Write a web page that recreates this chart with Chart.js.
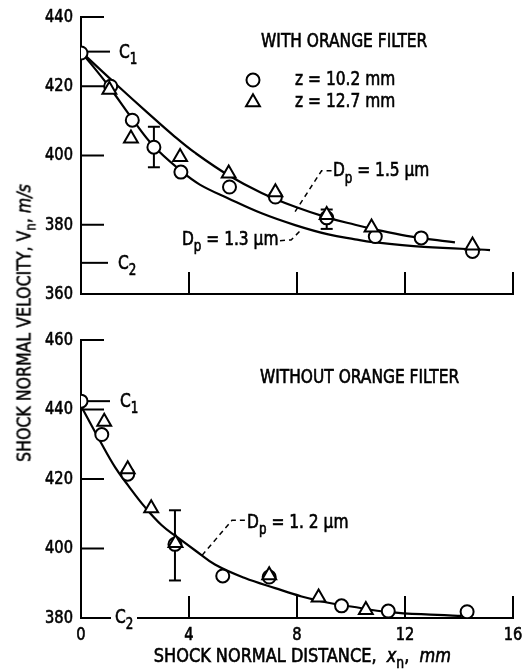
<!DOCTYPE html>
<html>
<head>
<meta charset="utf-8">
<script src="https://cdn.jsdelivr.net/npm/chart.js@4/dist/chart.umd.min.js"></script>
<style>
  html, body { margin: 0; padding: 0; background: #fff; }
  #wrap { position: relative; width: 523px; height: 670px; overflow: hidden; background: #fff; }
  #top { position: absolute; left: 0; top: 0; }
  #bot { position: absolute; left: 0; top: 320px; }
  #ytitle {
    position: absolute; left: 24px; top: 323px;
    transform: translate(-50%, -50%) rotate(-90deg) scale(0.9, 1);
    white-space: nowrap; color: #000;
    -webkit-text-stroke: 0.5px #000;
    font: 19.5px "DejaVu Sans Condensed", "Liberation Sans Narrow", "Liberation Sans", sans-serif;
  }
  #ytitle sub { font-size: 0.75em; vertical-align: -0.35em; line-height: 0; }
</style>
</head>
<body>
<div id="wrap">
  <canvas id="top" width="523" height="310"></canvas>
  <canvas id="bot" width="523" height="350"></canvas>
  <div id="ytitle">SHOCK NORMAL VELOCITY, V<sub>n</sub>, <i>m/s</i></div>
</div>
<script>
const FONT = '"DejaVu Sans Condensed", "Liberation Sans Narrow", "Liberation Sans", sans-serif';

// axes
const xTicks = [0, 4, 8, 12, 16];
const withYTicks = [360, 380, 400, 420, 440];
const withoutYTicks = [380, 400, 420, 440, 460];

// with orange filter (top)
const withC1 = 430;
const withC2 = 369;
const withCircleX = [0, 1.1, 1.9, 2.7, 3.7, 5.5, 7.2, 9.1, 10.9, 12.6, 14.5];
const withCircleV = [429.6, 420, 410.2, 402.4, 395.2, 390.9, 388.0, 382.0, 376.6, 376.2, 372.3];
const withTriX = [1.05, 1.85, 3.67, 5.47, 7.2, 9.1, 10.76, 14.5];
const withTriV = [419, 404.9, 399.6, 394.8, 389.4, 382.8, 379.2, 374.0];
const withErrX = [2.7, 9.1];
const withErrLow = [396.6, 378.8];
const withErrHigh = [408.3, 384.4];
const curve15X = [0, 1.38, 2.43, 3.48, 4.22, 5.46, 6.69, 7.93, 9.16, 10.15, 10.8, 12.06, 13.85];
const curve15V = [430, 420.0, 412.6, 405.4, 400.8, 394.3, 389.2, 385.2, 382.0, 380.0, 378.8, 376.8, 374.9];
const curve13X = [0, 1.0, 1.88, 2.68, 3.73, 4.4, 5.46, 6.69, 7.93, 9.16, 10.15, 10.8, 12.7, 15.15];
const curve13V = [430, 420.3, 410.8, 402.8, 395.4, 391.6, 387.6, 383.3, 379.9, 377.2, 375.8, 375.0, 373.6, 372.7];

// without orange filter (bottom)
const withoutC1 = 442.4;
const withoutC2 = 380;
const withoutCircleX = [0, 0.77, 1.73, 3.48, 5.25, 6.97, 9.65, 11.38, 14.3];
const withoutCircleV = [442.4, 432.8, 421.4, 401.2, 392.1, 391.8, 383.5, 382.0, 381.8];
const withoutTriX = [0.86, 1.73, 2.6, 3.5, 6.97, 8.8, 10.55];
const withoutTriV = [436.5, 422.8, 411.6, 401.6, 392.3, 385.9, 382.3];
const withoutErrX = [3.48];
const withoutErrLow = [390.8];
const withoutErrHigh = [411];
const curve12X = [0, 0.7, 1.26, 1.75, 2.37, 2.99, 3.54, 4.22, 4.96, 6.07, 7.19, 8.17, 9.16, 10.0, 11.4, 13.2, 14.1];
const curve12V = [441, 431, 423.4, 418.1, 411.9, 406.7, 403.4, 399.5, 395.4, 391.5, 388.6, 386.2, 384.4, 383.3, 381.7, 380.9, 380.6];

function pts(xs, vs) {
  return xs.map((x, i) => ({ x: x, y: vs[i] }));
}

function circles(xs, vs) {
  return { data: pts(xs, vs), showLine: false, pointStyle: 'circle', pointRadius: 6.5,
    pointBorderColor: '#000', pointBackgroundColor: '#fff', pointBorderWidth: 2 };
}
function triangles(xs, vs) {
  return { data: pts(xs, vs), showLine: false, pointStyle: 'triangle', pointRadius: 8,
    pointBorderColor: '#000', pointBackgroundColor: '#fff', pointBorderWidth: 2 };
}
function curve(xs, vs) {
  return { data: pts(xs, vs), showLine: true, pointRadius: 0, borderColor: '#000',
    borderWidth: 2.2, tension: 0.4, fill: false };
}

// text helpers (sx squeezes the text sideways, the print uses a narrow face)
function rich(ctx, parts, x, y, size, align, sx) {
  sx = sx || 0.88;
  const fontFor = k => (k === 'it' ? 'italic ' : '') + (k === 'sub' ? Math.round(size * 0.75) : size) + 'px ' + FONT;
  let total = 0;
  parts.forEach(p => { ctx.font = fontFor(p[1]); total += ctx.measureText(p[0]).width; });
  let start = x;
  if (align === 'center') start = x - total * sx / 2;
  if (align === 'right') start = x - total * sx;
  ctx.save();
  ctx.translate(start, y);
  ctx.scale(sx, 1);
  ctx.textAlign = 'left';
  ctx.textBaseline = 'middle';
  ctx.strokeStyle = ctx.fillStyle;
  ctx.lineWidth = 0.6;
  ctx.setLineDash([]);
  let cx = 0;
  parts.forEach(p => {
    ctx.font = fontFor(p[1]);
    const dy = p[1] === 'sub' ? size * 0.38 : 0;
    ctx.fillText(p[0], cx, dy);
    ctx.strokeText(p[0], cx, dy);
    cx += ctx.measureText(p[0]).width;
  });
  ctx.restore();
}
function seg(ctx, x1, y1, x2, y2) {
  ctx.beginPath(); ctx.moveTo(x1, y1); ctx.lineTo(x2, y2); ctx.stroke();
}
function dashed(ctx, list) {
  ctx.save();
  ctx.lineWidth = 1.5;
  ctx.setLineDash([5, 4]);
  ctx.beginPath();
  list.forEach((p, i) => i ? ctx.lineTo(p[0], p[1]) : ctx.moveTo(p[0], p[1]));
  ctx.stroke();
  ctx.restore();
}
function circleMark(ctx, x, y, r) {
  ctx.beginPath(); ctx.arc(x, y, r, 0, Math.PI * 2); ctx.stroke();
}
function triMark(ctx, x, y, r) {
  ctx.beginPath();
  for (let k = 0; k < 3; k++) {
    const a = k * 2 * Math.PI / 3;
    const px = x + Math.sin(a) * r, py = y - Math.cos(a) * r;
    k ? ctx.lineTo(px, py) : ctx.moveTo(px, py);
  }
  ctx.closePath(); ctx.stroke();
}

// inward tick marks and the narrow tick labels
function axisMarks(showX) {
  return {
    id: 'axisMarks',
    afterDatasetsDraw(chart) {
      const { ctx, chartArea: a, scales: { x, y } } = chart;
      ctx.save();
      ctx.strokeStyle = '#000';
      ctx.fillStyle = '#000';
      ctx.lineWidth = 2;
      y.ticks.forEach(t => {
        const py = y.getPixelForValue(t.value);
        if (t.value !== y.min) seg(ctx, a.left, py, a.left + 23, py);
        rich(ctx, [[String(t.value), '']], a.left - 8, py, 18.5, 'right');
        ctx.lineWidth = 2;
      });
      x.ticks.forEach(t => {
        const px = x.getPixelForValue(t.value);
        if (t.value !== x.min) seg(ctx, px, a.bottom, px, a.bottom - 22);
        if (showX) rich(ctx, [[String(t.value), '']], px, a.bottom + 17, 18.5, 'center');
        ctx.lineWidth = 2;
      });
      ctx.restore();
    }
  };
}

function errorBars(xs, lows, highs) {
  return {
    id: 'errorBars',
    beforeDatasetsDraw(chart) {
      const { ctx, scales: { x, y } } = chart;
      ctx.save();
      ctx.strokeStyle = '#000';
      ctx.lineWidth = 2;
      xs.forEach((xv, i) => {
        const px = x.getPixelForValue(xv);
        const p1 = y.getPixelForValue(lows[i]);
        const p2 = y.getPixelForValue(highs[i]);
        seg(ctx, px, p1, px, p2);
        seg(ctx, px - 6, p1, px + 6, p1);
        seg(ctx, px - 6, p2, px + 6, p2);
      });
      ctx.restore();
    }
  };
}

const topNotes = {
  id: 'topNotes',
  afterDraw(chart) {
    const { ctx, chartArea: a, scales: { x, y } } = chart;
    const X = v => x.getPixelForValue(v), Y = v => y.getPixelForValue(v);
    ctx.save();
    ctx.fillStyle = '#000';
    ctx.strokeStyle = '#000';
    ctx.lineWidth = 2;
    seg(ctx, a.left + 7, Y(withC1), a.left + 29, Y(withC1));
    seg(ctx, a.left, Y(withC2), a.left + 27, Y(withC2));
    circleMark(ctx, X(6.37), Y(421.8), 6.5);
    triMark(ctx, X(6.37), Y(415.4), 8);
    dashed(ctx, [[X(9.28), Y(395.6)], [X(8.91), Y(395.6)], [X(7.93), Y(383.8)]]);
    dashed(ctx, [[X(7.37), Y(375.4)], [X(7.78), Y(375.6)], [X(8.19), Y(378.8)]]);

    rich(ctx, [['C', ''], ['1', 'sub']], a.left + 38, Y(withC1) + 1, 19.5);
    rich(ctx, [['C', ''], ['2', 'sub']], a.left + 37, Y(withC2) + 1, 19.5);
    rich(ctx, [['WITH ORANGE FILTER', '']], X(6.67), Y(432.7), 19.5);
    rich(ctx, [['z = 10.2 mm', '']], X(7.93), Y(421.8), 19.5);
    rich(ctx, [['z = 12.7 mm', '']], X(7.93), Y(415.6), 19.5);
    rich(ctx, [['D', ''], ['p', 'sub'], [' = 1.5 µm', '']], X(9.33), Y(395.4), 19.5);
    rich(ctx, [['D', ''], ['p', 'sub'], [' = 1.3 µm', '']], X(3.74), Y(375.6), 19.5);
    ctx.restore();
  }
};

const botNotes = {
  id: 'botNotes',
  afterDraw(chart) {
    const { ctx, chartArea: a, scales: { x, y } } = chart;
    const X = v => x.getPixelForValue(v), Y = v => y.getPixelForValue(v);
    ctx.save();
    ctx.fillStyle = '#000';
    ctx.strokeStyle = '#000';
    ctx.lineWidth = 2;
    seg(ctx, a.left + 7, Y(withoutC1), a.left + 29, Y(withoutC1));
    dashed(ctx, [[X(6.07), Y(408.1)], [X(5.59), Y(408.1)], [X(4.48), Y(398)]]);
    ctx.fillStyle = '#fff';
    ctx.fillRect(a.left + 30, Y(withoutC2) - 2, 26, 4);
    ctx.fillStyle = '#000';

    rich(ctx, [['C', ''], ['1', 'sub']], a.left + 39, Y(withoutC1) + 1, 19.5);
    rich(ctx, [['C', ''], ['2', 'sub']], a.left + 34, Y(withoutC2), 19.5);
    rich(ctx, [['WITHOUT ORANGE FILTER', '']], X(6.63), Y(449), 19.5);
    rich(ctx, [['D', ''], ['p', 'sub'], [' = 1. 2 µm', '']], X(6.15), Y(407.5), 19.5);
    rich(ctx, [['SHOCK NORMAL DISTANCE,  ', ''], ['x', 'it'], ['n', 'sub'], [',  ', ''], ['mm', 'it']],
      X(8.2), a.bottom + 39, 19.5, 'center', 0.92);
    ctx.restore();
  }
};

function panelOptions(yTicks, showX, pad) {
  return {
    responsive: false,
    animation: false,
    events: [],
    layout: { padding: pad },
    plugins: { legend: { display: false }, tooltip: { enabled: false } },
    scales: {
      x: {
        type: 'linear', min: xTicks[0], max: xTicks[xTicks.length - 1],
        afterBuildTicks: s => { s.ticks = xTicks.map(v => ({ value: v })); },
        ticks: { display: false },
        grid: { display: false, drawTicks: false },
        border: { display: true, color: '#000', width: 2 },
        afterFit: s => { s.height = showX ? 52 : 0; }
      },
      y: {
        type: 'linear', min: yTicks[0], max: yTicks[yTicks.length - 1],
        afterBuildTicks: s => { s.ticks = yTicks.map(v => ({ value: v })); },
        ticks: { display: false },
        grid: { display: false, drawTicks: false },
        border: { display: true, color: '#000', width: 2 },
        afterFit: s => { s.width = 81; }
      }
    }
  };
}

new Chart(document.getElementById('top'), {
  type: 'scatter',
  data: {
    datasets: [
      triangles(withTriX, withTriV),
      circles(withCircleX, withCircleV),
      curve(curve15X, curve15V),
      curve(curve13X, curve13V)
    ]
  },
  options: panelOptions(withYTicks, false, { top: 17, right: 10, left: 0, bottom: 16 }),
  plugins: [errorBars(withErrX, withErrLow, withErrHigh), axisMarks(false), topNotes]
});

new Chart(document.getElementById('bot'), {
  type: 'scatter',
  data: {
    datasets: [
      triangles(withoutTriX, withoutTriV),
      circles(withoutCircleX, withoutCircleV),
      curve(curve12X, curve12V)
    ]
  },
  options: panelOptions(withoutYTicks, true, { top: 20, right: 10, left: 0, bottom: 0 }),
  plugins: [errorBars(withoutErrX, withoutErrLow, withoutErrHigh), axisMarks(true), botNotes]
});
</script>
</body>
</html>
